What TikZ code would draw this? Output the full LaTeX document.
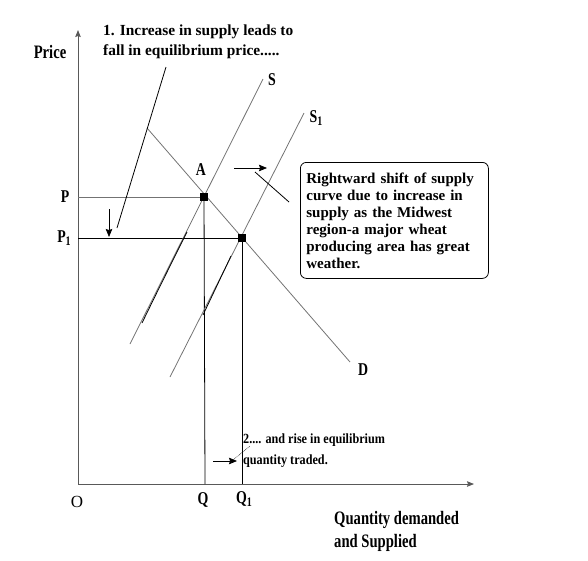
\documentclass[tikz,border=0pt]{standalone}
\usepackage{fontspec}
\setmainfont{Liberation Serif}
\newfontfamily\narrowbf[FakeStretch=0.77]{Liberation Serif Bold}
\newfontfamily\narrowrm[FakeStretch=0.87]{Liberation Serif Bold}
\newcommand\subone{\raisebox{-3pt}{\fontsize{13}{13}\selectfont 1}}
\usetikzlibrary{arrows.meta,positioning,calc}

\begin{document}
\begin{tikzpicture}[x=1pt,y=-1pt,>={Stealth[length=8pt,width=6.5pt,inset=1pt]},
  every node/.style={inner sep=0pt},
  axis/.style={draw=black!65,line width=0.9pt},
  curve/.style={draw=black!55,line width=0.8pt},
  guide/.style={draw=black,line width=0.8pt},
  eqpt/.style={rectangle,fill=black,minimum size=7.5pt,inner sep=0pt},
  lbl/.style={font=\narrowbf\fontsize{18}{20}\selectfont},
  note/.style={font=\bfseries\fontsize{15}{17}\selectfont,align=left}]
\useasboundingbox (0,0) rectangle (588,560);

% axes
\coordinate (o) at (78,484);
\coordinate (ytop) at (78,30);
\coordinate (xend) at (474,484);
\draw[axis,-{Stealth[length=7pt,width=5.5pt,inset=1pt]}] (o) -- (ytop);
\draw[axis,-{Stealth[length=7pt,width=5.5pt,inset=1pt]}] (o) -- (xend);
\node[font=\narrowbf\fontsize{19}{21}\selectfont] (price) at (50,52) {Price};
\node[font=\narrowbf\fontsize{19}{23}\selectfont,align=left,anchor=west] (qlabel) at (334,531) {Quantity demanded\\and Supplied};

% equilibria and guide lines
\coordinate (A) at (204,197);
\coordinate (B) at (242,238);
\coordinate (pa) at (78,197);
\coordinate (pb) at (78,238);
\coordinate (qa) at (205,484);
\coordinate (qb) at (242,484);
\draw[curve] (pa) -- (A);
\draw[guide] (pb) -- (B);
\draw[guide] (A) -- (qa);
\draw[guide] (B) -- (qb);

% supply and demand
\coordinate (s0) at (130,344);
\coordinate (s1) at (263,79);
\coordinate (t0) at (170,377);
\coordinate (t1) at (304,113);
\coordinate (d0) at (147,128);
\coordinate (d1) at (350,362);
\draw[curve] (s0) -- (s1);
\draw[curve] (t0) -- (t1);
\draw[curve] (d0) -- (d1);
\draw[guide] (187,232) .. controls (172,262) and (160,286) .. (142,323);
\draw[guide] (231,256) -- (203,315);
\node[eqpt] (eqA) at (A) {};
\node[eqpt] (eqB) at (B) {};

\node[lbl] (sl) at (272,80) {S};
\node[lbl] (s1l) at (316,118) {S\subone};
\node[lbl] (dl) at (363,370) {D};
\node[lbl] (al) at (201,170) {A};
\node[lbl] (pl) at (65,197) {P};
\node[lbl] (p1l) at (64,238) {P\subone};
\node[font=\fontsize{17}{19}\selectfont] (ol) at (77,502) {O};
\node[lbl] (ql) at (203,500) {Q};
\node[lbl] (q1l) at (244,499) {Q\subone};

% price note
\node[note,font=\bfseries\fontsize{15.4}{20}\selectfont,anchor=west] (pnote) at (103,42) {1. Increase in supply leads to\\fall in equilibrium price.....};
\coordinate (h0) at (166,67);
\coordinate (h1) at (117,228);
\draw[guide] (h0) -- (h1);
\coordinate (ar0) at (109,209);
\coordinate (ar1) at (109,237);
\draw[guide,->] (ar0) -- (ar1);

% shift note
\node[note,draw,rounded corners=6pt,line width=0.8pt,anchor=north west,text width=176pt,
  minimum height=116pt,inner xsep=6pt,inner ysep=4pt] (box) at (300,162)
  {Rightward shift of supply\\curve due to increase in\\supply as the Midwest\\region-a major wheat\\producing area has great\\weather.};
\coordinate (rr0) at (234,168);
\coordinate (rr1) at (267,168);
\draw[guide,->] (rr0) -- (rr1);
\coordinate (bp0) at (255,172);
\coordinate (bp1) at (289,202);
\draw[guide] (bp0) -- (bp1);

% quantity note
\node[font=\narrowrm\fontsize{14}{21}\selectfont,align=left,anchor=west] (qnote) at (243,451) {2.... and rise in equilibrium\\quantity traded.};
\coordinate (qa0) at (213,461);
\coordinate (qa1) at (237,461);
\draw[guide,->] (qa0) -- (qa1);
\coordinate (dq0) at (233,460);
\coordinate (dq1) at (250,446);
\draw[black,line width=0.6pt,densely dotted] (dq0) -- (dq1);
\end{tikzpicture}
\end{document}
